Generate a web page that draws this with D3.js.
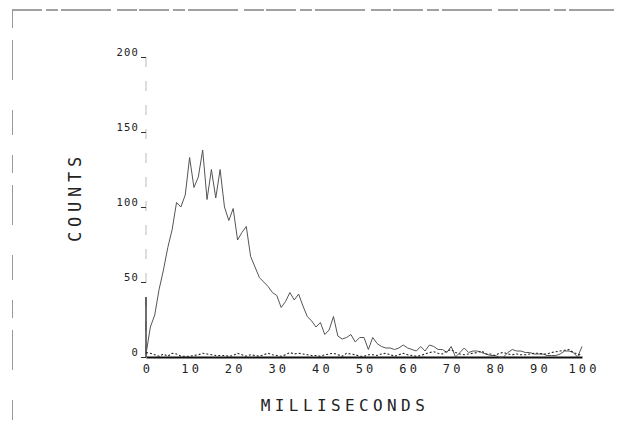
<!DOCTYPE html>
<html><head><meta charset="utf-8">
<script src="https://cdn.jsdelivr.net/npm/d3@7"></script>
<style>
html,body{margin:0;padding:0;background:#fff;}
svg{display:block;}
text{font-family:"DejaVu Sans Mono","Liberation Mono",monospace;fill:#222;}
</style></head>
<body>
<script>
// ---- data ----
const milliseconds = d3.range(0, 101); // bin centres 0..100 ms
const countsMain = [2,20,28,45,58,73,85,103,100,108,133,113,120,138,105,125,106,125,100,91,
  99,78,83,87,67,60,53,50,47,43,41,33,37,43,38,42,34,27,24,20,
  23,15,18,27,14,12,13,15,10,13,13,5,13,9,7,6,6,5,6,8,
  6,5,4,7,4,8,7,5,5,3,7,0,3,6,3,4,4,3,2,1,
  1,0,0,3,5,4,4,3,3,2,2,2,1,1,1,2,4,4,3,0,7];
const countsDotted = [3,2.5,1.5,0.5,2,0.5,2.5,2,0.5,0.5,0.5,1,1.5,2.5,2,1.5,1,1,1,0.5,
  1,2.5,1.5,0.5,1.5,1,0.5,1.5,2.5,1.5,1,0.5,1.5,3,2,2.5,2,1.5,1,1,
  0.5,1.5,2,2.5,1.5,0.5,2.5,2,1.5,0.5,0.5,1.5,1.5,1,2,2.5,1.5,0.5,1.5,2.5,
  1.5,1,0.5,1,2,3,3.5,2.5,2,4,5,3,2,1.5,2,2.5,3,4,2,2,
  1,2.5,3,2,1.5,2,1.5,1.5,2,2.5,2.5,2,2,3,3.5,4,4.5,5,3,2,1];
const xTicks = [0,10,20,30,40,50,60,70,80,90,100];
const yTicks = [0,50,100,150,200];
const xTitle = "MILLISECONDS";
const yTitle = "COUNTS";

// ---- layout ----
const W = 617, H = 423;
const svg = d3.select("body").append("svg").attr("width", W).attr("height", H);

const x = d3.scaleLinear().domain([0, 100]).range([146, 582]);
const y = d3.scaleLinear().domain([0, 200]).range([357, 57]);

// page border (scan artefacts)
svg.append("line").attr("x1", 12).attr("x2", 614).attr("y1", 10).attr("y2", 10)
  .attr("stroke", "#444").attr("stroke-width", 1.2).attr("stroke-dasharray", "30,4,12,3,50,6,20,2");
svg.append("line").attr("x1", 12.5).attr("x2", 12.5).attr("y1", 10).attr("y2", 420)
  .attr("stroke", "#999").attr("stroke-width", 1).attr("stroke-dasharray", "18,12,40,30,25,20");

// y axis
svg.append("line").attr("x1", x(0)).attr("x2", x(0)).attr("y1", y(200)).attr("y2", y(0))
  .attr("stroke", "#bbb").attr("stroke-width", 1).attr("stroke-dasharray", "10,14");
svg.append("line").attr("x1", x(0)).attr("x2", x(0)).attr("y1", y(40)).attr("y2", y(0))
  .attr("stroke", "#111").attr("stroke-width", 1.2);

const yAxis = d3.axisLeft(y).tickValues(yTicks).tickSize(5).tickPadding(2).tickFormat(d3.format("d"));
const gy = svg.append("g").attr("transform", `translate(${x(0)},0)`).call(yAxis);
gy.select(".domain").remove();
gy.selectAll(".tick line").attr("stroke", "#333");
gy.selectAll(".tick text").attr("font-size", 10.5).attr("letter-spacing", 1.2)
  .attr("dy", "-0.1em").attr("fill", "#111");

// x axis
const xAxis = d3.axisBottom(x).tickValues(xTicks).tickSize(0).tickPadding(7).tickFormat(d3.format("d"));
const gx = svg.append("g").attr("transform", `translate(0,${y(0)})`).call(xAxis);
gx.select(".domain").attr("stroke", "#111").attr("stroke-width", 2);
gx.selectAll(".tick text").attr("font-size", 12).attr("letter-spacing", 3.2).attr("fill", "#111")
  .attr("dx", "0.13em");

// series
const line = d3.line().x((d, i) => x(milliseconds[i])).y(d => y(d));
svg.append("path").datum(countsMain).attr("d", line)
  .attr("fill", "none").attr("stroke", "#555").attr("stroke-width", 1);
svg.append("path").datum(countsDotted).attr("d", line)
  .attr("fill", "none").attr("stroke", "#222").attr("stroke-width", 1.1).attr("stroke-dasharray", "2,2");

// titles
svg.append("text").attr("x", 345).attr("y", 411).attr("text-anchor", "middle")
  .attr("font-size", 16).attr("letter-spacing", 4.4).attr("fill", "#555").text(xTitle);
svg.append("text").attr("transform", "translate(81,197) rotate(-90)").attr("text-anchor", "middle")
  .attr("font-size", 17).attr("letter-spacing", 4.8).attr("fill", "#555").text(yTitle);
</script>
</body></html>
